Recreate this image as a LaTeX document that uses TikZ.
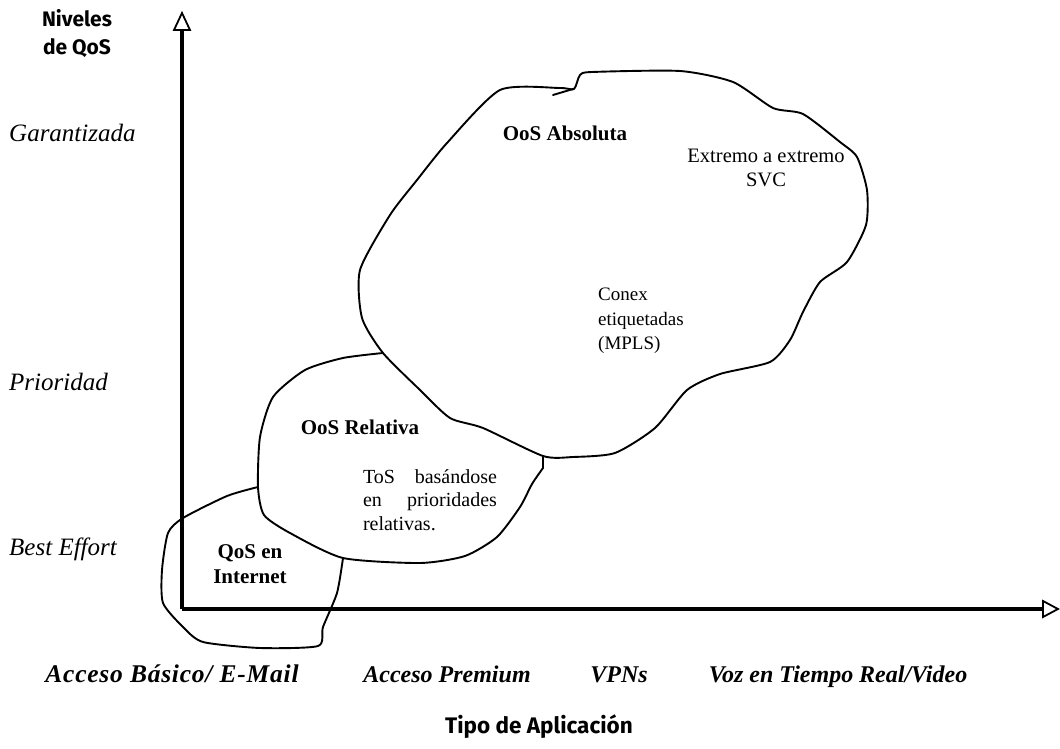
\documentclass[tikz,border=0pt]{standalone}
\usepackage{fontspec}
\setmainfont{Liberation Serif}
\newfontfamily\handfont{Fira Sans}
\begin{document}
\begin{tikzpicture}[x=1pt,y=-1pt,
  axisline/.style={line width=3.6pt},
  tipshape/.style={line width=1.8pt, fill=white, line join=miter},
  blobline/.style={line width=1.9pt, line join=round, line cap=round},
  levellabel/.style={anchor=base west, inner sep=0pt, font=\fontsize{25}{29}\selectfont\itshape},
  applabel/.style={anchor=base, inner sep=0pt, font=\fontsize{24}{28}\selectfont\bfseries\itshape},
  axistitle/.style={inner sep=0pt, align=center, font=\fontsize{21}{28}\selectfont\handfont\bfseries},
  regiontitle/.style={inner sep=0pt, align=center, font=\fontsize{21}{25}\selectfont\bfseries},
  bodytext/.style={inner sep=0pt, font=\fontsize{20.5}{24}\selectfont}]
\useasboundingbox (0,0) rectangle (1060,749);

% axes
\coordinate (origin) at (182,609);
\coordinate (ytip) at (182,13);
\coordinate (xtip) at (1058,609);
\draw[axisline] (origin) -- (182,30);
\draw[axisline] (origin) -- (1043,609);
\draw[tipshape] (ytip) -- (174,30) -- (190,30) -- cycle;
\draw[tipshape] (xtip) -- (1043,601) -- (1043,617) -- cycle;

% axis titles
\node[axistitle] (ytitle) at (77,34) {Niveles\\de QoS};
\node[axistitle, font=\fontsize{22.5}{28}\selectfont\handfont\bfseries] (xtitle) at (539,727) {Tipo de Aplicación};

% service levels
\node[levellabel] (garant) at (9,142) {Garantizada};
\node[levellabel] (prior) at (9,390) {Prioridad};
\node[levellabel] (best) at (9,555) {Best Effort};

% application types
\node[applabel, font=\fontsize{25.5}{28}\selectfont\bfseries\itshape] (app1) at (172,682)
  {\addfontfeature{LetterSpace=3}Acceso Básico/ E-Mail};
\node[applabel] (app2) at (447,682) {Acceso Premium};
\node[applabel] (app3) at (619,682) {VPNs};
\node[applabel] (app4) at (838,682) {Voz en Tiempo Real/Video};

% absolute QoS region
\draw[blobline] plot[smooth cycle, tension=0.4] coordinates {
  (383,353) (362,318) (360,270) (390,215) (417,180) (447,143) (500,90)
  (560,88) (574,89) (580,75) (592,72) (680,71) (733,82) (773,108)
  (803,114) (840,142) (857,157) (867,190) (866,225) (847,262) (820,282)
  (803,312) (790,340) (770,362) (720,374) (687,390) (655,428) (615,453)
  (573,457) (543,456) (483,428) (450,418) (420,390)};
\draw[blobline] (553,95) -- (573,89);

% relative QoS region
\draw[blobline] plot[smooth, tension=0.4] coordinates {
  (383,353) (343,358) (305,370) (273,397) (260,437) (258,487) (264,515)
  (290,533) (343,558) (420,563) (465,556) (497,537) (520,507) (532,484)
  (543,468)};
\draw[blobline] (543,468) -- (543,456);

% best-effort (Internet) region
\draw[blobline] plot[smooth, tension=0.4] coordinates {
  (258,487) (227,496) (183,518) (168,533) (162,570) (163,603) (183,627)
  (203,642) (260,648) (318,646) (323,627) (337,593) (343,558)};

% region texts
\node[regiontitle] (internet) at (250,564) {QoS en\\Internet};
\node[regiontitle] (relative) at (360,427) {OoS Relativa};
\node[bodytext, font=\fontsize{20}{23.5}\selectfont, text width=134pt, align=justify] (tos) at (430,500)
  {ToS basándose en prioridades relativas.};
\node[regiontitle] (absolute) at (565,133) {OoS Absoluta};
\node[bodytext, align=center] (svc) at (766,168) {Extremo a extremo\\SVC};
\node[bodytext, font=\fontsize{19}{24.5}\selectfont, align=left, anchor=west] (mpls) at (598,321)
  {Conex\\etiquetadas\\(MPLS)};
\end{tikzpicture}
\end{document}
